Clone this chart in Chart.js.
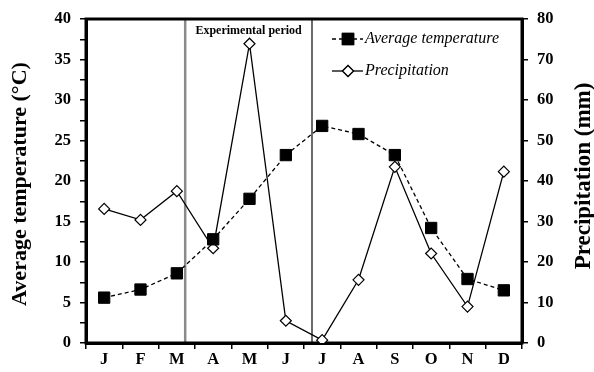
<!DOCTYPE html>
<html>
<head>
<meta charset="utf-8">
<script src="https://cdn.jsdelivr.net/npm/chart.js@4.4.0/dist/chart.umd.min.js"></script>
<style>
  html,body{margin:0;padding:0;background:#fff;}
  #wrap{width:594px;height:372px;position:relative;}
</style>
</head>
<body>
<div id="wrap"><canvas id="c" width="594" height="372"></canvas></div>
<script>
/* ─── DATA ─────────────────────────────── */
const months      = ['J','F','M','A','M','J','J','A','S','O','N','D'];
const avgTemp     = [5.6, 6.6, 8.6, 12.8, 17.8, 23.2, 26.8, 25.8, 23.2, 14.2, 7.9, 6.5];
const precip      = [33.1, 30.4, 37.5, 23.4, 73.9, 5.5, 0.7, 15.6, 43.5, 22.1, 9.0, 42.3];
const tempTicks   = [0, 40, 2.5];   // min, max, step
const precipTicks = [0, 80, 10];
const periodBounds = [2.23, 5.72];  // category positions of the grey lines

const SERIF = '"Liberation Serif","Times New Roman",serif';

/* ─── DECORATION PLUGIN ────────────────── */
const deco = {
  id:'deco',
  beforeDatasetsDraw(chart){
    const {ctx, chartArea:a, scales:{x}} = chart;
    ctx.save();
    // experimental period lines
    const x1 = x.getPixelForValue(periodBounds[0]);
    const x2 = x.getPixelForValue(periodBounds[1]);
    ctx.strokeStyle = '#8a8a8a'; ctx.lineWidth = 2.5;
    ctx.beginPath(); ctx.moveTo(x1,a.top); ctx.lineTo(x1,a.bottom); ctx.stroke();
    ctx.strokeStyle = '#6a6a6a'; ctx.lineWidth = 2;
    ctx.beginPath(); ctx.moveTo(x2,a.top); ctx.lineTo(x2,a.bottom); ctx.stroke();
    ctx.fillStyle = '#000';
    ctx.font = 'bold 12px '+SERIF;
    ctx.textAlign = 'center'; ctx.textBaseline = 'middle';
    ctx.fillText('Experimental period', (x1+x2)/2, a.top+12);
    // frame
    ctx.strokeStyle = '#000'; ctx.lineWidth = 3;
    ctx.strokeRect(a.left, a.top, a.right-a.left, a.bottom-a.top);
    ctx.restore();
  },
  afterDraw(chart){
    const {ctx} = chart;
    ctx.save();
    ctx.fillStyle = '#000';
    ctx.font = 'bold 22px '+SERIF;
    ctx.textAlign = 'center'; ctx.textBaseline = 'middle';
    ctx.translate(20, 184); ctx.rotate(-Math.PI/2);
    ctx.fillText('Average temperature (°C)', 0, 0);
    ctx.restore();
    ctx.save();
    ctx.fillStyle = '#000';
    ctx.font = 'bold 23px '+SERIF;
    ctx.textAlign = 'center'; ctx.textBaseline = 'middle';
    ctx.translate(584, 176); ctx.rotate(-Math.PI/2);
    ctx.fillText('Precipitation (mm)', 0, 0);
    ctx.restore();

    // legend
    const rows = [
      {y:39, label:'Average temperature', dash:[4,3], ds:0},
      {y:71, label:'Precipitation', dash:[], ds:1}
    ];
    ctx.save();
    rows.forEach(r=>{
      ctx.strokeStyle = '#000'; ctx.lineWidth = 1.3;
      ctx.setLineDash(r.dash);
      ctx.beginPath(); ctx.moveTo(332, r.y); ctx.lineTo(363, r.y); ctx.stroke();
      ctx.setLineDash([]);
      const d = chart.data.datasets[r.ds];
      Chart.helpers.drawPoint(ctx, {
        pointStyle:d.pointStyle, radius:d.pointRadius, borderWidth:d.pointBorderWidth
      }, 348, r.y);
      ctx.fillStyle = d.pointBackgroundColor; ctx.strokeStyle = '#000';
      ctx.lineWidth = d.pointBorderWidth;
      ctx.fill(); ctx.stroke();
      ctx.fillStyle = '#000';
      ctx.font = 'italic 16px '+SERIF;
      ctx.textAlign = 'left'; ctx.textBaseline = 'middle';
      ctx.fillText(r.label, 365, r.y);
    });
    ctx.restore();
  }
};

/* ─── CHART ────────────────────────────── */
const tickFont = {family:SERIF, size:16.5, weight:'bold'};

new Chart(document.getElementById('c').getContext('2d'), {
  type:'line',
  data:{
    labels:months,
    datasets:[
      {
        label:'Average temperature', data:avgTemp, yAxisID:'y',
        borderColor:'#000', borderWidth:1.3, borderDash:[4,3],
        pointStyle:'rect', pointRadius:8, pointBackgroundColor:'#000',
        pointBorderColor:'#000', pointBorderWidth:1, tension:0
      },
      {
        label:'Precipitation', data:precip, yAxisID:'y1',
        borderColor:'#000', borderWidth:1.3,
        pointStyle:'rectRot', pointRadius:5.5, pointBackgroundColor:'#fff',
        pointBorderColor:'#000', pointBorderWidth:1.2, tension:0
      }
    ]
  },
  options:{
    responsive:false, animation:false,
    layout:{padding:{top:19,left:0,right:0,bottom:0}},
    plugins:{legend:{display:false}, tooltip:{enabled:false}},
    scales:{
      x:{
        offset:true,
        grid:{offset:true, drawOnChartArea:false, tickLength:6, color:'#000', lineWidth:1.5},
        border:{display:true, width:3, color:'#000'},
        ticks:{color:'#000', font:tickFont, padding:1, autoSkip:false, maxRotation:0},
        afterFit(s){ s.height = 29; }
      },
      y:{
        position:'left', min:tempTicks[0], max:tempTicks[1],
        grid:{drawOnChartArea:false, tickLength:6, color:'#000', lineWidth:1.5},
        border:{display:true, width:3, color:'#000'},
        ticks:{stepSize:tempTicks[2], color:'#000', font:tickFont, padding:9, autoSkip:false,
               callback:v=> v%5===0 ? v : ''},
        afterFit(s){ s.width = 86; }
      },
      y1:{
        position:'right', min:precipTicks[0], max:precipTicks[1],
        grid:{drawOnChartArea:false, tickLength:6, color:'#000', lineWidth:1.5},
        border:{display:true, width:3, color:'#000'},
        ticks:{stepSize:precipTicks[2], color:'#000', font:tickFont, padding:9, autoSkip:false},
        afterFit(s){ s.width = 72; }
      }
    }
  },
  plugins:[deco]
});
</script>
</body>
</html>
